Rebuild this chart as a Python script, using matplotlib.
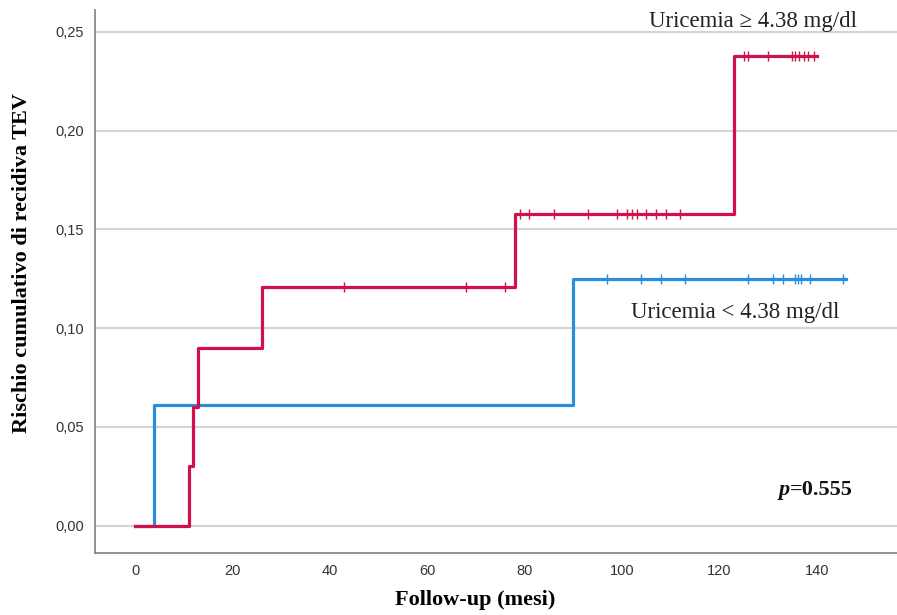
import numpy as np
import matplotlib
matplotlib.use('Agg')
import matplotlib.pyplot as plt

# Kaplan-Meier style cumulative risk, step values per group
high_times = [0, 11, 12, 13, 26, 78, 123, 140]
high_risk = [0.0, 0.030, 0.060, 0.090, 0.121, 0.158, 0.238, 0.238]
high_censored = [43, 68, 76,
                 79, 81, 86, 93, 99, 101, 102, 103, 105, 107, 109, 112,
                 125, 126, 130, 135, 135.5, 136.3, 137.5, 138.3, 139.5]

low_times = [0, 4, 90, 146]
low_risk = [0.0, 0.061, 0.125, 0.125]
low_censored = [97, 104, 108, 113, 126, 131, 133, 135.6, 136.1, 136.8, 138.7, 145.5]

xticks = [0, 20, 40, 60, 80, 100, 120, 140]
yticks = [0.00, 0.05, 0.10, 0.15, 0.20, 0.25]

RED = '#d0124b'
BLUE = '#2a8edb'

def step_value(times, risk, t):
    idx = np.searchsorted(times, t, side='right') - 1
    return np.array(risk)[idx]

fig = plt.figure(figsize=(8.97, 6.15), dpi=100)
ax = fig.add_axes([0.106, 0.101, 0.894, 0.883])

for y in yticks:
    ax.axhline(y, color='#d4d4d4', lw=1.5, zorder=0)

ax.step(low_times, low_risk, where='post', color=BLUE, lw=2.3, zorder=2)
ax.plot(low_censored, step_value(low_times, low_risk, low_censored), ls='none',
        marker='|', ms=7, mew=1.0, color=BLUE, zorder=3)
ax.step(high_times, high_risk, where='post', color=RED, lw=2.3, zorder=4)
ax.plot(high_censored, step_value(high_times, high_risk, high_censored), ls='none',
        marker='|', ms=7, mew=1.0, color=RED, zorder=5)

ax.set_xlim(-8.2, 156.5)
ax.set_ylim(-0.0138, 0.2612)
ax.set_xticks(xticks)
ax.set_yticks(yticks)
ax.set_xticklabels([str(v) for v in xticks])
ax.set_yticklabels([('%.2f' % v).replace('.', ',') for v in yticks])
ax.tick_params(length=0, labelsize=10.5, labelcolor='#333333', pad=8,
               labelfontfamily='Liberation Sans')

for side in ['top', 'right']:
    ax.spines[side].set_visible(False)
for side in ['left', 'bottom']:
    ax.spines[side].set_color('#8a8a8a')
    ax.spines[side].set_linewidth(1.3)

serif = ['Liberation Serif', 'DejaVu Serif']
fig.text(0.53, 0.024, 'Follow-up (mesi)', ha='center', va='center',
         fontsize=16, fontweight='bold', family=serif)
fig.text(0.025, 0.572, 'Rischio cumulativo di recidiva TEV', ha='center', va='center',
         rotation=90, fontsize=16, fontweight='bold', family=serif)

ax.text(127, 0.2555, 'Uricemia \u2265 4.38 mg/dl', ha='center', va='center',
        fontsize=16.5, family=serif, color='#222222')
ax.text(123.2, 0.108, 'Uricemia < 4.38 mg/dl', ha='center', va='center',
        fontsize=16.5, family=serif, color='#222222')
ax.text(134.5, 0.018, 'p', ha='right', va='center', fontsize=16,
        fontweight='bold', fontstyle='italic', family=serif, color='#111111')
ax.text(134.5, 0.018, '=0.555', ha='left', va='center', fontsize=16,
        fontweight='bold', family=serif, color='#111111')

fig.savefig('out.png', dpi=100)
